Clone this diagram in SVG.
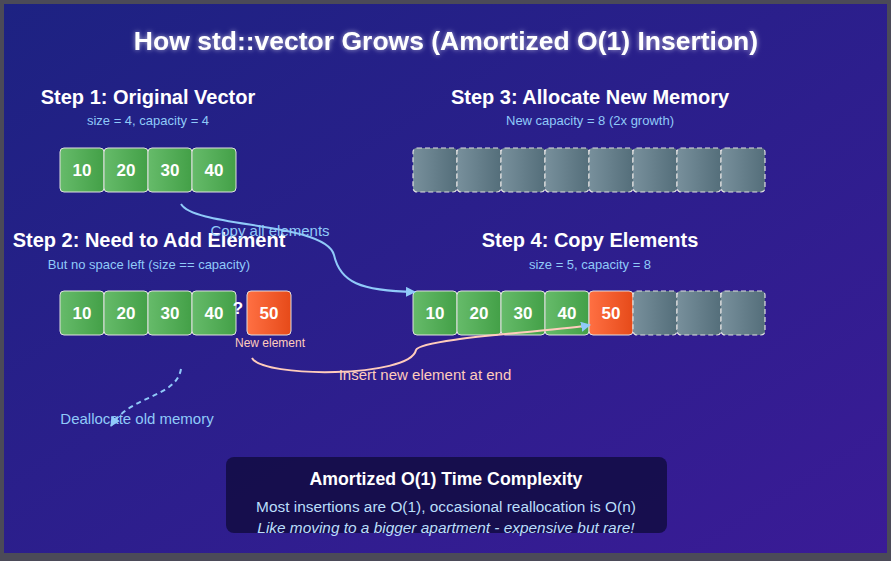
<svg xmlns="http://www.w3.org/2000/svg" width="891" height="561" viewBox="0 0 891 561">
<defs>
<linearGradient id="bg" x1="0" y1="0" x2="1" y2="1"><stop offset="0" stop-color="#1d2282"/><stop offset="1" stop-color="#3a1b96"/></linearGradient>
<linearGradient id="g" x1="0" y1="0" x2="1" y2="0"><stop offset="0" stop-color="#66bb6a"/><stop offset="1" stop-color="#43a047"/></linearGradient>
<linearGradient id="o" x1="0" y1="0" x2="1" y2="0"><stop offset="0" stop-color="#ff7043"/><stop offset="1" stop-color="#e64a19"/></linearGradient>
<linearGradient id="e" x1="0" y1="0" x2="1" y2="0"><stop offset="0" stop-color="#78909c"/><stop offset="1" stop-color="#546e7a"/></linearGradient>
<filter id="glow" x="-10%" y="-50%" width="120%" height="200%"><feGaussianBlur in="SourceAlpha" stdDeviation="2.5" result="b"/><feFlood flood-color="#ffffff" flood-opacity="0.6"/><feComposite in2="b" operator="in" result="c"/><feMerge><feMergeNode in="c"/><feMergeNode in="SourceGraphic"/></feMerge></filter>
<marker id="ah" viewBox="0 0 10 10" refX="9" refY="5" markerWidth="10" markerHeight="10" markerUnits="userSpaceOnUse" orient="auto"><path d="M0,0 L10,5 L0,10 Z" fill="#90caf9"/></marker>
<style>
.t{font-family:"Liberation Sans",Arial,sans-serif}
.h{font-weight:bold;fill:#fff;font-size:20px;text-anchor:middle}
.s{font-size:13px;fill:#90caf9;text-anchor:middle}
.c{stroke:#e0e0e0;stroke-width:1}
.ce{stroke:#e0e0e0;stroke-width:1.2;stroke-dasharray:5,3;fill:url(#e)}
.n{font-weight:bold;fill:#fff;font-size:17px;text-anchor:middle}
.lb{font-size:15px;fill:#90caf9}
.lp{font-size:15px;fill:#ffccbc}
</style>
</defs>
<rect width="891" height="561" fill="#4b4a58"/>
<rect x="4" y="4" width="883" height="549" fill="url(#bg)"/>
<text class="t" x="446" y="50" font-size="26.5" font-weight="bold" fill="#fff" text-anchor="middle" filter="url(#glow)">How std::vector Grows (Amortized O(1) Insertion)</text>

<g id="step1">
<text class="t h" x="148" y="104">Step 1: Original Vector</text>
<text class="t s" x="148" y="125">size = 4, capacity = 4</text>
<g class="c"><rect x="60" y="148" width="44" height="44" rx="4" fill="url(#g)"/><rect x="104" y="148" width="44" height="44" rx="4" fill="url(#g)"/><rect x="148" y="148" width="44" height="44" rx="4" fill="url(#g)"/><rect x="192" y="148" width="44" height="44" rx="4" fill="url(#g)"/></g>
<text class="t n" x="82" y="176">10</text><text class="t n" x="126" y="176">20</text><text class="t n" x="170" y="176">30</text><text class="t n" x="214" y="176">40</text>
</g>

<g id="step3">
<text class="t h" x="590" y="104">Step 3: Allocate New Memory</text>
<text class="t s" x="590" y="125">New capacity = 8 (2x growth)</text>
<rect class="ce" x="413" y="148" width="44" height="44" rx="4"/><rect class="ce" x="457" y="148" width="44" height="44" rx="4"/><rect class="ce" x="501" y="148" width="44" height="44" rx="4"/><rect class="ce" x="545" y="148" width="44" height="44" rx="4"/><rect class="ce" x="589" y="148" width="44" height="44" rx="4"/><rect class="ce" x="633" y="148" width="44" height="44" rx="4"/><rect class="ce" x="677" y="148" width="44" height="44" rx="4"/><rect class="ce" x="721" y="148" width="44" height="44" rx="4"/>
</g>

<g id="step2">
<text class="t h" x="149" y="247">Step 2: Need to Add Element</text>
<text class="t s" x="149" y="269">But no space left (size == capacity)</text>
<g class="c"><rect x="60" y="291" width="44" height="44" rx="4" fill="url(#g)"/><rect x="104" y="291" width="44" height="44" rx="4" fill="url(#g)"/><rect x="148" y="291" width="44" height="44" rx="4" fill="url(#g)"/><rect x="192" y="291" width="44" height="44" rx="4" fill="url(#g)"/></g>
<text class="t n" x="82" y="319">10</text><text class="t n" x="126" y="319">20</text><text class="t n" x="170" y="319">30</text><text class="t n" x="214" y="319">40</text>
<text class="t n" x="238" y="314" font-size="18">?</text>
</g>

<g id="newElement">
<rect class="c" x="247" y="291" width="44" height="44" rx="4" fill="url(#o)"/>
<text class="t n" x="269" y="319">50</text>
<text class="t" x="270" y="347" font-size="12" fill="#ffccbc" text-anchor="middle">New element</text>
</g>

<g id="step4">
<text class="t h" x="590" y="247">Step 4: Copy Elements</text>
<text class="t s" x="590" y="269">size = 5, capacity = 8</text>
<g class="c"><rect x="413" y="291" width="44" height="44" rx="4" fill="url(#g)"/><rect x="457" y="291" width="44" height="44" rx="4" fill="url(#g)"/><rect x="501" y="291" width="44" height="44" rx="4" fill="url(#g)"/><rect x="545" y="291" width="44" height="44" rx="4" fill="url(#g)"/><rect x="589" y="291" width="44" height="44" rx="4" fill="url(#o)"/></g>
<rect class="ce" x="633" y="291" width="44" height="44" rx="4"/><rect class="ce" x="677" y="291" width="44" height="44" rx="4"/><rect class="ce" x="721" y="291" width="44" height="44" rx="4"/>
<text class="t n" x="435" y="319">10</text><text class="t n" x="479" y="319">20</text><text class="t n" x="523" y="319">30</text><text class="t n" x="567" y="319">40</text><text class="t n" x="611" y="319">50</text>
</g>

<g id="connectors" fill="none">
<path d="M181,204 C195,228 325,222 334,255 C340,282 360,291 415,292" stroke="#90caf9" stroke-width="2" marker-end="url(#ah)"/>
<path d="M252,358 C262,378 410,378 416,350 C420,338 560,331 590,325" stroke="#ffccbc" stroke-width="2" marker-end="url(#ah)"/>
<path d="M181,369 C176,398 130,395 111,426" stroke="#90caf9" stroke-width="2" stroke-dasharray="5,4" marker-end="url(#ah)"/>
<text class="t lb" x="270" y="236" text-anchor="middle" stroke="none">Copy all elements</text>
<text class="t lp" x="425" y="380" text-anchor="middle" stroke="none">Insert new element at end</text>
<text class="t lb" x="137" y="424" text-anchor="middle" stroke="none">Deallocate old memory</text>
</g>

<g id="summary">
<rect x="226" y="457" width="441" height="76" rx="8" fill="#120c42" fill-opacity="0.85"/>
<text class="t" x="446" y="485" font-size="17.7" font-weight="bold" fill="#fff" text-anchor="middle">Amortized O(1) Time Complexity</text>
<text class="t" x="446" y="512" font-size="15.4" fill="#bbdefb" text-anchor="middle">Most insertions are O(1), occasional reallocation is O(n)</text>
<text class="t" x="446" y="533" font-size="15.4" font-style="italic" fill="#bbdefb" text-anchor="middle">Like moving to a bigger apartment - expensive but rare!</text>
</g>
</svg>
